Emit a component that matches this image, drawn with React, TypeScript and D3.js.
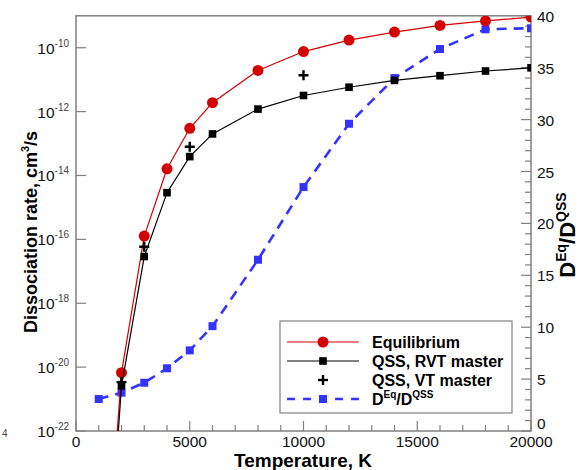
import * as d3 from 'd3';

// temperature grid, K
const temps = [1000, 2000, 3000, 4000, 5000, 6000, 8000, 10000, 12000, 14000, 16000, 18000, 20000];
// dissociation rates, cm^3/s (first point lies below the axis and is clipped)
const equilibrium = [1e-30, 6.7e-21, 1.27e-16, 1.62e-14, 3.0e-13, 1.9e-12, 1.95e-11, 7.6e-11, 1.74e-10, 3.1e-10, 5.0e-10, 6.9e-10, 9.1e-10];
const qssRvt = [1.6e-31, 2.6e-21, 2.9e-17, 2.9e-15, 3.9e-14, 2.0e-13, 1.2e-12, 3.2e-12, 5.8e-12, 9.5e-12, 1.33e-11, 1.87e-11, 2.35e-11];
const vtTemps = [2000, 3000, 5000, 10000];
const qssVt = [3.4e-21, 5.9e-17, 7.9e-14, 1.38e-11];
// ratio D_Eq / D_QSS (right axis)
const ratio = [3.08, 3.69, 4.65, 6.04, 7.77, 10.1, 16.5, 23.5, 29.6, 34.0, 36.8, 38.7, 38.8];

const xTicks = [0, 5000, 10000, 15000, 20000];
const xMinor = d3.range(0, 20001, 1000);
const leftExps = [-22, -20, -18, -16, -14, -12, -10];
const rightTicks = [0, 5, 10, 15, 20, 25, 30, 35, 40];
const rightMinor = d3.range(0, 41, 1);

const W = 579;
const H = 470;
const left = 76;
const right = 531;
const top = 15.8;
const bottom = 431;
const font = "'Liberation Sans', Arial, sans-serif";
const axisColor = '#808080';
const red = '#d40000';
const blue = '#3333ff';

export default function App() {
  const x = d3.scaleLinear().domain([0, 20000]).range([left, right]);
  const yL = d3.scaleLog().domain([1e-22, 1e-9]).range([bottom, top]);
  const yR = d3.scaleLinear().domain([0, 40]).range([bottom, top]);

  const lineL = d3
    .line<[number, number]>()
    .x((d) => x(d[0]))
    .y((d) => yL(d[1]));
  const lineR = d3
    .line<[number, number]>()
    .x((d) => x(d[0]))
    .y((d) => yR(d[1]));

  const eqPts = temps.map((t, i) => [t, equilibrium[i]] as [number, number]);
  const rvtPts = temps.map((t, i) => [t, qssRvt[i]] as [number, number]);
  const ratioPts = temps.map((t, i) => [t, ratio[i]] as [number, number]);
  const inPlot = (v: number) => v >= 1e-22;

  const legendLabels = ['Equilibrium', 'QSS, RVT master', 'QSS, VT master'];
  const lgX = 280;
  const lgY = 321;
  const lgW = 232;
  const lgH = 92;
  const rowY = (i: number) => 342 + i * 19;

  const plus = (cx: number, cy: number, k: string) => (
    <g key={k} stroke="#000" strokeWidth={2.4}>
      <line x1={cx - 5} x2={cx + 5} y1={cy} y2={cy} />
      <line x1={cx} x2={cx} y1={cy - 5} y2={cy + 5} />
    </g>
  );

  return (
    <svg
      width={W}
      height={H}
      style={{ position: 'absolute', left: 0, top: 0, background: '#fff' }}
      fontFamily={font}
    >
      <defs>
        <clipPath id="plot">
          <rect x={left} y={top} width={right - left} height={bottom - top} />
        </clipPath>
      </defs>

      {/* frame */}
      <rect x={left} y={top} width={right - left} height={bottom - top} fill="none" stroke={axisColor} strokeWidth={1.5} />

      {/* bottom ticks */}
      {xMinor.map((t) => (
        <line key={'xm' + t} x1={x(t)} x2={x(t)} y1={bottom} y2={bottom - (t % 5000 === 0 ? 10 : 6)} stroke={axisColor} strokeWidth={1.2} />
      ))}
      {xTicks.map((t) => (
        <text key={'xl' + t} x={x(t)} y={447} fontSize={15.5} textAnchor="middle" fill="#111">
          {t}
        </text>
      ))}

      {/* left ticks */}
      {leftExps.map((e) => (
        <g key={'yl' + e}>
          <line x1={left} x2={left + 10} y1={yL(Math.pow(10, e))} y2={yL(Math.pow(10, e))} stroke={axisColor} strokeWidth={1.2} />
          <text x={69} y={yL(Math.pow(10, e)) + 6} fontSize={15.5} textAnchor="end" fill="#111">
            10
            <tspan fontSize={10} dy={-7} fill="#444">
              {e}
            </tspan>
          </text>
        </g>
      ))}
      <text x={2} y={437} fontSize={10} fill="#444">
        4
      </text>

      {/* right ticks */}
      {rightMinor.map((v) => (
        <line key={'rm' + v} x1={right} x2={right - (v % 5 === 0 ? 10 : 6)} y1={yR(v)} y2={yR(v)} stroke={axisColor} strokeWidth={1.2} />
      ))}
      {rightTicks.map((v) => (
        <text key={'rl' + v} x={537} y={v === 0 ? 429 : yR(v) + 6} fontSize={15.5} fill="#111">
          {v}
        </text>
      ))}

      {/* axis titles */}
      <text x={303} y={467} fontSize={19} fontWeight="bold" textAnchor="middle">
        Temperature, K
      </text>
      <text transform="translate(37,232) rotate(-90)" fontSize={18} fontWeight="bold" textAnchor="middle">
        Dissociation rate, cm<tspan fontSize={11} dy={-8}>3</tspan>
        <tspan dy={8}>/s</tspan>
      </text>
      <text transform="translate(575,235) rotate(-90)" fontSize={22} fontWeight="bold" textAnchor="middle">
        D<tspan fontSize={14} dy={-9}>Eq</tspan>
        <tspan dy={9}>/D</tspan>
        <tspan fontSize={14} dy={-9}>QSS</tspan>
      </text>

      <g clipPath="url(#plot)">
        {/* ratio, right axis */}
        <path d={lineR(ratioPts) ?? ''} fill="none" stroke={blue} strokeWidth={2.6} strokeDasharray="10,7" />
        {ratioPts.map((d, i) => (
          <rect key={'b' + i} x={x(d[0]) - 4} y={yR(d[1]) - 4} width={8} height={8} fill={blue} />
        ))}

        {/* equilibrium */}
        <path d={lineL(eqPts) ?? ''} fill="none" stroke={red} strokeWidth={1.2} />
        {eqPts.filter((d) => inPlot(d[1])).map((d, i) => (
          <circle key={'e' + i} cx={x(d[0])} cy={yL(d[1])} r={5.5} fill={red} />
        ))}

        {/* QSS RVT */}
        <path d={lineL(rvtPts) ?? ''} fill="none" stroke="#000" strokeWidth={1.2} />
        {rvtPts.filter((d) => inPlot(d[1])).map((d, i) => (
          <rect key={'r' + i} x={x(d[0]) - 3.8} y={yL(d[1]) - 3.8} width={7.6} height={7.6} fill="#000" />
        ))}

        {/* QSS VT */}
        {vtTemps.map((t, i) => plus(x(t), yL(qssVt[i]), 'v' + i))}
      </g>

      {/* legend */}
      <rect x={lgX} y={lgY} width={lgW} height={lgH} fill="#fff" stroke={axisColor} strokeWidth={1.2} />
      <line x1={287} x2={359} y1={rowY(0)} y2={rowY(0)} stroke={red} strokeWidth={1.2} />
      <circle cx={323} cy={rowY(0)} r={5.5} fill={red} />
      <line x1={287} x2={359} y1={rowY(1)} y2={rowY(1)} stroke="#000" strokeWidth={1.2} />
      <rect x={323 - 3.8} y={rowY(1) - 3.8} width={7.6} height={7.6} fill="#000" />
      {plus(323, rowY(2), 'lgp')}
      <line x1={287} x2={359} y1={rowY(3)} y2={rowY(3)} stroke={blue} strokeWidth={2.6} strokeDasharray="8,8" />
      <rect x={319} y={rowY(3) - 4} width={8} height={8} fill={blue} />
      {legendLabels.map((label, i) => (
        <text key={label} x={372} y={rowY(i) + 5.5} fontSize={16} fontWeight="bold">
          {label}
        </text>
      ))}
      <text x={372} y={rowY(3) + 5.5} fontSize={16} fontWeight="bold">
        D<tspan fontSize={10} dy={-7}>Eq</tspan>
        <tspan dy={7}>/D</tspan>
        <tspan fontSize={10} dy={-7}>QSS</tspan>
      </text>
    </svg>
  );
}
